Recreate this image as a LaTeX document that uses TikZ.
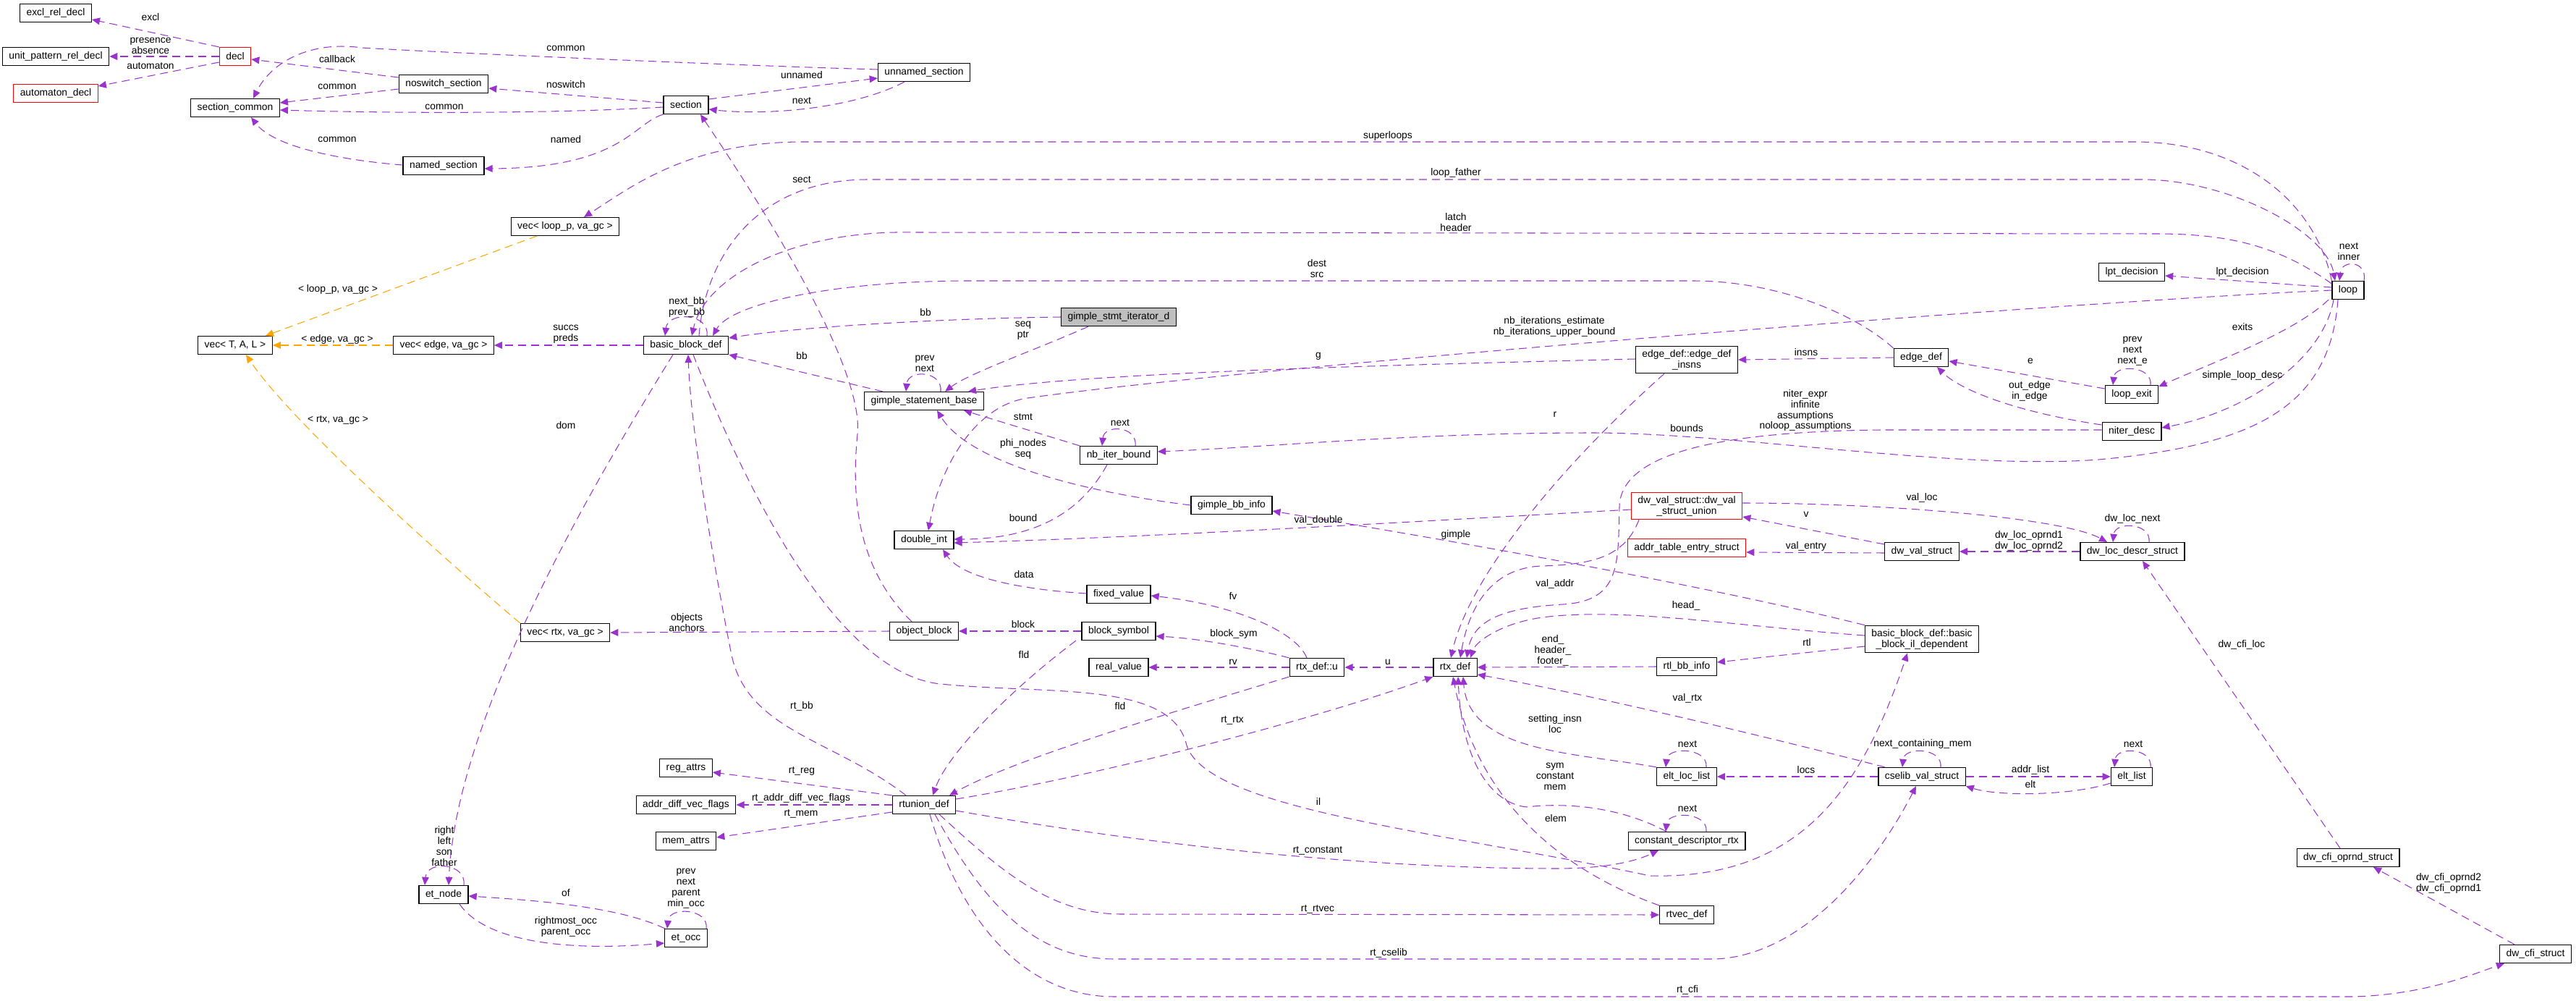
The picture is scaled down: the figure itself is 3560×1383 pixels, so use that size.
\documentclass[tikz,border=0pt]{standalone}
\usepackage{fontspec}
\setmainfont{Liberation Sans}
\usetikzlibrary{arrows.meta}
\definecolor{edgepurple}{HTML}{9A32CD}
\definecolor{tmplorange}{HTML}{FFA500}
\definecolor{rootgray}{HTML}{BFBFBF}
\begin{document}
\begin{tikzpicture}[x=0.0254cm, y=-0.0254cm,
    cls/.style={draw=black, line width=0.9pt, fill=white, align=center, font=\fontsize{10}{10.8}\selectfont, inner xsep=6.5pt, inner ysep=3.5pt, minimum height=18pt},
    redcls/.style={cls, draw=red},
    rootcls/.style={cls, fill=rootgray},
    lbl/.style={font=\fontsize{10}{10.8}\selectfont, align=center, inner sep=0pt},
    member/.style={draw=edgepurple, line width=0.75pt, dash pattern=on 8pt off 5pt, -{Triangle[length=8pt,width=7pt]}},
    inst/.style={member, draw=tmplorange}]
    \fill[white] (0,0) rectangle (3560,1383);
    \useasboundingbox (0,0) rectangle (3560,1383);

    \node[cls] (excl) at (77,18) {excl\_rel\_decl};
    \node[cls] (upat) at (77,78) {unit\_pattern\_rel\_decl};
    \node[redcls] (autod) at (77,129) {automaton\_decl};
    \node[redcls] (decl) at (325,78) {decl};
    \node[cls] (seccom) at (325,149) {section\_common};
    \node[cls] (noswitch) at (613,116) {noswitch\_section};
    \node[cls] (namedsec) at (613,229) {named\_section};
    \node[cls] (section) at (948,145) {section};
    \node[cls] (unnamed) at (1277,100) {unnamed\_section};
    \node[cls] (vecloop) at (781,313) {vec< loop\_p, va\_gc >};
    \node[cls] (vectal) at (325,477) {vec< T, A, L >};
    \node[cls] (vecedge) at (613,477) {vec< edge, va\_gc >};
    \node[cls] (bbdef) at (948,477) {basic\_block\_def};
    \node[rootcls] (gsiter) at (1546,438) {gimple\_stmt\_iterator\_d};
    \node[cls] (gsbase) at (1277,554) {gimple\_statement\_base};
    \node[cls] (nbiter) at (1546,629) {nb\_iter\_bound};
    \node[cls] (dblint) at (1277,746) {double\_int};
    \node[cls] (gbbinfo) at (1702,698) {gimple\_bb\_info};
    \node[cls] (fixval) at (1546,821) {fixed\_value};
    \node[cls] (objblock) at (1277,872) {object\_block};
    \node[cls] (blksym) at (1546,872) {block\_symbol};
    \node[cls] (vecrtx) at (781,874) {vec< rtx, va\_gc >};
    \node[cls] (realval) at (1546,922) {real\_value};
    \node[cls] (rtxu) at (1820,922) {rtx\_def::u};
    \node[cls] (rtxdef) at (2011,922) {rtx\_def};
    \node[cls] (rtunion) at (1277,1112) {rtunion\_def};
    \node[cls] (regattrs) at (948,1061) {reg\_attrs};
    \node[cls] (adiff) at (948,1112) {addr\_diff\_vec\_flags};
    \node[cls] (memattrs) at (948,1162) {mem\_attrs};
    \node[cls] (etnode) at (613,1236) {et\_node};
    \node[cls] (etocc) at (948,1296) {et\_occ};
    \node[cls] (rtlbb) at (2331,921) {rtl\_bb\_info};
    \node[cls] (bbil) at (2656,883) {basic\_block\_def::basic\\\_block\_il\_dependent};
    \node[redcls] (dwunion) at (2331,699) {dw\_val\_struct::dw\_val\\\_struct\_union};
    \node[redcls] (addrtab) at (2331,757) {addr\_table\_entry\_struct};
    \node[cls] (dwval) at (2656,762) {dw\_val\_struct};
    \node[cls] (dwloc) at (2947,762) {dw\_loc\_descr\_struct};
    \node[cls] (edgeins) at (2331,497) {edge\_def::edge\_def\\\_insns};
    \node[cls] (edgedef) at (2655,494) {edge\_def};
    \node[cls] (loopexit) at (2946,545) {loop\_exit};
    \node[cls] (niter) at (2946,596) {niter\_desc};
    \node[cls] (lptdec) at (2946,376) {lpt\_decision};
    \node[cls] (loop) at (3245,401) {loop};
    \node[cls] (eltloc) at (2331,1073) {elt\_loc\_list};
    \node[cls] (cselib) at (2656,1073) {cselib\_val\_struct};
    \node[cls] (eltlist) at (2946,1073) {elt\_list};
    \node[cls] (constdesc) at (2331,1162) {constant\_descriptor\_rtx};
    \node[cls] (rtvec) at (2331,1264) {rtvec\_def};
    \node[cls] (cfiopr) at (3245,1185) {dw\_cfi\_oprnd\_struct};
    \node[cls] (cfistr) at (3504,1318) {dw\_cfi\_struct};

    \draw[member] (decl.north west) -- (excl.east |- 0,27);
    \draw[member] (decl.west) -- (upat.east);
    \draw[member] (decl.west |- 0,86) -- (autod.east |- 0,119);
    \draw[member] (noswitch.west |- 0,107) -- (decl.east |- 0,82);
    \draw[member] (noswitch.west |- 0,123) -- (seccom.east |- 0,142);
    \draw[member] (section.west |- 0,148) .. controls (750,158) and (520,156) .. (seccom.east |- 0,152);
    \draw[member] (unnamed.west |- 0,96) .. controls (1000,90) and (600,72) .. (500,66) .. controls (430,56) and (375,85) .. (350,0 |- seccom.north);
    \draw[member] (namedsec.west |- 0,228) .. controls (480,222) and (380,205) .. (347,0 |- seccom.south);
    \draw[member] (section.west |- 0,142) -- (noswitch.east |- 0,122);
    \draw[member] (section.south west) .. controls (875,170) and (860,232) .. (namedsec.east |- 0,233);
    \draw[member] (section.east |- 0,137) -- (unnamed.west |- 0,108);
    \draw[member] (1250,0 |- unnamed.south) .. controls (1180,150) and (1060,160) .. (section.east |- 0,151);

    \draw[member] (loop.north west) .. controls (3200,280) and (3100,196) .. (2950,196) -- (1110,196) .. controls (950,196) and (870,260) .. (807,0 |- vecloop.north);
    \draw[inst] (742,0 |- vecloop.south) -- (367,0 |- vectal.north);
    \draw[inst] (vecedge.west) -- (vectal.east);
    \draw[member] (bbdef.west) -- (vecedge.east);
    \draw[inst] (vecrtx.north west) .. controls (600,760) and (400,580) .. (340,0 |- vectal.south);

    \draw[member] (977,0 |- bbdef.north) .. controls (981,432) and (923,430) .. (919,0 |- bbdef.north);
    \draw[member] (966,0 |- bbdef.north) .. controls (975,350) and (1050,248) .. (1200,248) -- (2960,248) .. controls (3080,248) and (3215,320) .. (3227,0 |- loop.north);
    \draw[member] (loop.west |- 0,392) .. controls (3150,340) and (3080,323) .. (2980,323) -- (1260,321) .. controls (1100,318) and (975,380) .. (956,0 |- bbdef.north);
    \draw[member] (edgedef.north west) .. controls (2560,430) and (2450,388) .. (2340,388) -- (1340,388) .. controls (1150,388) and (1010,420) .. (985,0 |- bbdef.north);
    \draw[member] (gsiter.west) .. controls (1300,440) and (1100,452) .. (bbdef.east |- 0,467);
    \draw[member] (1220,0 |- gsbase.north) -- (bbdef.south east);
    \draw[member] (930,0 |- bbdef.south) .. controls (800,700) and (630,1000) .. (620,0 |- etnode.north);
    \draw[member] (1252,0 |- rtunion.north) .. controls (1150,1020) and (1030,1010) .. (1010,900) .. controls (990,800) and (955,600) .. (951,0 |- bbdef.south);
    \draw[member] (958,0 |- bbdef.south) .. controls (1020,650) and (1150,930) .. (1300,945) .. controls (1450,960) and (1620,940) .. (1640,1030) .. controls (1670,1120) and (2000,1150) .. (2280,1210) .. controls (2480,1215) and (2570,1100) .. (2636,0 |- bbil.south);

    \draw[member] (1300,0 |- gsbase.north) .. controls (1303,512) and (1255,510) .. (1252,0 |- gsbase.north);
    \draw[member] (1504,0 |- gsiter.south) .. controls (1440,480) and (1340,515) .. (1306,0 |- gsbase.north);
    \draw[member] (edgeins.west |- 0,496) .. controls (1900,505) and (1500,515) .. (1338,0 |- gsbase.north);
    \draw[member] (nbiter.north west) -- (1332,0 |- gsbase.south);
    \draw[member] (gbbinfo.west) .. controls (1500,680) and (1340,640) .. (1295,0 |- gsbase.south);
    \draw[member] (1569,0 |- nbiter.north) .. controls (1572,588) and (1526,586) .. (1523,0 |- nbiter.north);
    \draw[member] (3231,0 |- loop.south) .. controls (3220,560) and (3120,615) .. (2900,635) .. controls (2700,650) and (2400,598) .. (2200,598) .. controls (1950,598) and (1750,618) .. (nbiter.east |- 0,624);

    \draw[member] (loop.west) .. controls (2800,420) and (1700,510) .. (1420,550) .. controls (1350,560) and (1300,640) .. (1283,0 |- dblint.north);
    \draw[member] (1530,0 |- nbiter.south) .. controls (1490,715) and (1420,745) .. (dblint.east |- 0,745);
    \draw[member] (dwunion.west |- 0,704) .. controls (2000,718) and (1600,742) .. (dblint.east |- 0,750);
    \draw[member] (fixval.west |- 0,820) .. controls (1420,815) and (1330,800) .. (1303,0 |- dblint.south);

    \draw[member] (1806,0 |- rtxu.north) .. controls (1790,870) and (1700,835) .. (fixval.east |- 0,823);
    \draw[member] (rtxu.north west) .. controls (1740,898) and (1660,882) .. (blksym.east |- 0,879);
    \draw[member] (blksym.west) -- (objblock.east);
    \draw[member] (1260,0 |- objblock.north) .. controls (1190,790) and (1175,700) .. (1185,600) .. controls (1195,500) and (1030,250) .. (968,0 |- section.south);
    \draw[member] (objblock.west) -- (vecrtx.east);
    \draw[member] (1487,0 |- blksym.south) .. controls (1400,950) and (1310,1040) .. (1289,0 |- rtunion.north);
    \draw[member] (rtxu.south west) .. controls (1600,990) and (1400,1050) .. (1312,0 |- rtunion.north);
    \draw[member] (rtxdef.west) -- (rtxu.east);
    \draw[member] (rtxu.west) -- (realval.east);

    \draw[member] (rtunion.north west) -- (regattrs.east |- 0,1067);
    \draw[member] (rtunion.west) -- (adiff.east);
    \draw[member] (rtunion.west |- 0,1122) -- (memattrs.east |- 0,1157);
    \draw[member] (rtunion.east |- 0,1104) .. controls (1500,1075) and (1800,1000) .. (rtxdef.south west);
    \draw[member] (rtunion.east |- 0,1120) .. controls (1600,1170) and (1900,1200) .. (2150,1200) .. controls (2220,1200) and (2260,1190) .. (2292,0 |- constdesc.south);
    \draw[member] (1298,0 |- rtunion.south) .. controls (1380,1200) and (1450,1263) .. (1550,1263) -- (rtvec.west);
    \draw[member] (1292,0 |- rtunion.south) .. controls (1360,1250) and (1430,1325) .. (1540,1325) -- (2370,1325) .. controls (2500,1320) and (2600,1180) .. (2648,0 |- cselib.south);
    \draw[member] (1285,0 |- rtunion.south) .. controls (1330,1280) and (1420,1377) .. (1540,1377) -- (3250,1377) .. controls (3350,1375) and (3420,1345) .. (3461,0 |- cfistr.south);

    \draw[member] (641,0 |- etnode.north) .. controls (645,1192) and (590,1188) .. (587,0 |- etnode.north);
    \draw[member] (919,0 |- etocc.north) .. controls (860,1255) and (760,1245) .. (etnode.east |- 0,1238);
    \draw[member] (635,0 |- etnode.south) .. controls (670,1300) and (780,1315) .. (etocc.west |- 0,1303);
    \draw[member] (976,0 |- etocc.north) .. controls (980,1255) and (925,1252) .. (922,0 |- etocc.north);

    \draw[member] (edgedef.west) -- (edgeins.east);
    \draw[member] (2300,0 |- edgeins.south) .. controls (2150,650) and (2030,800) .. (2005,0 |- rtxdef.north);
    \draw[member] (niter.west |- 0,594) -- (2600,594) .. controls (2400,596) and (2240,620) .. (2238,700) .. controls (2236,780) and (2240,830) .. (2160,835) .. controls (2070,840) and (2035,860) .. (2027,0 |- rtxdef.north);
    \draw[member] (rtlbb.west) -- (rtxdef.east);
    \draw[member] (bbil.west |- 0,893) -- (rtlbb.east |- 0,915);
    \draw[member] (bbil.west |- 0,878) .. controls (2400,865) and (2250,840) .. (2140,852) .. controls (2080,858) and (2040,885) .. (2032,0 |- rtxdef.north);
    \draw[member] (bbil.north west) .. controls (2300,795) and (1900,730) .. (gbbinfo.east |- 0,706);
    \draw[member] (2265,0 |- dwunion.south) .. controls (2245,770) and (2200,780) .. (2130,782) .. controls (2060,785) and (2030,840) .. (2018,0 |- rtxdef.north);
    \draw[member] (dwval.west |- 0,752) -- (dwunion.east |- 0,714);
    \draw[member] (dwval.west |- 0,764) -- (addrtab.east |- 0,763);
    \draw[member] (dwunion.east |- 0,695) .. controls (2600,695) and (2850,715) .. (2912,0 |- dwloc.north);
    \draw[member] (dwloc.west) -- (dwval.east);
    \draw[member] (2970,0 |- dwloc.north) .. controls (2973,722) and (2923,720) .. (2920,0 |- dwloc.north);
    \draw[member] (3234,0 |- cfiopr.north) -- (2961,0 |- dwloc.south);
    \draw[member] (3475,0 |- cfistr.north) -- (3280,0 |- cfiopr.south);

    \draw[member] (loop.west |- 0,397) -- (lptdec.east |- 0,381);
    \draw[member] (3267,0 |- loop.north) .. controls (3272,360) and (3236,358) .. (3233,0 |- loop.north);
    \draw[member] (3218,0 |- loop.south) .. controls (3170,460) and (3060,500) .. (loopexit.east |- 0,534);
    \draw[member] (3225,0 |- loop.south) .. controls (3210,500) and (3100,570) .. (niter.east |- 0,591);
    \draw[member] (loopexit.west |- 0,537) -- (edgedef.east |- 0,499);
    \draw[member] (niter.west |- 0,587) .. controls (2790,570) and (2710,540) .. (2677,0 |- edgedef.south);
    \draw[member] (2972,0 |- loopexit.north) .. controls (2975,505) and (2923,503) .. (2920,0 |- loopexit.north);

    \draw[member] (2358,0 |- eltloc.north) .. controls (2361,1033) and (2305,1031) .. (2302,0 |- eltloc.north);
    \draw[member] (cselib.west) -- (eltloc.east);
    \draw[member] (2682,0 |- cselib.north) .. controls (2685,1033) and (2632,1031) .. (2629,0 |- cselib.north);
    \draw[member] (2972,0 |- eltlist.north) .. controls (2975,1033) and (2925,1031) .. (2922,0 |- eltlist.north);
    \draw[member] (cselib.east) -- (eltlist.west);
    \draw[member] (eltlist.west |- 0,1082) .. controls (2860,1100) and (2760,1100) .. (cselib.south east);
    \draw[member] (eltloc.north west) .. controls (2180,1040) and (2030,1040) .. (2022,0 |- rtxdef.south);
    \draw[member] (2303,0 |- constdesc.north) .. controls (2230,1110) and (2150,1110) .. (2110,1115) .. controls (2060,1110) and (2020,1050) .. (2015,0 |- rtxdef.south);
    \draw[member] (rtvec.north west) .. controls (2150,1200) and (2040,1100) .. (2008,0 |- rtxdef.south);
    \draw[member] (2605,0 |- cselib.north) .. controls (2450,1020) and (2200,960) .. (rtxdef.east |- 0,932);
    \draw[member] (2358,0 |- constdesc.north) .. controls (2361,1122) and (2305,1120) .. (2302,0 |- constdesc.north);

    \node[lbl] (lexcl) at (208,24) {excl};
    \node[lbl] (lpresence) at (208,63) {presence\\absence};
    \node[lbl] (lautomaton) at (208,91) {automaton};
    \node[lbl] (lcommona) at (782,67) {common};
    \node[lbl] (lcallback) at (466,82) {callback};
    \node[lbl] (lcommonb) at (466,120) {common};
    \node[lbl] (lnoswitch) at (782,117) {noswitch};
    \node[lbl] (lcommonc) at (614,148) {common};
    \node[lbl] (lcommond) at (466,193) {common};
    \node[lbl] (lnamed) at (782,193) {named};
    \node[lbl] (lunnamed) at (1108,104) {unnamed};
    \node[lbl] (lnextsec) at (1108,139) {next};
    \node[lbl] (lsuperloops) at (1918,188) {superloops};
    \node[lbl] (lloopfather) at (2012,239) {loop\_father};
    \node[lbl] (llatch) at (2012,307) {latch\\header};
    \node[lbl] (ldest) at (1820,371) {dest\\src};
    \node[lbl] (lnextbb) at (949,424) {next\_bb\\prev\_bb};
    \node[lbl] (lbbiter) at (1279,432) {bb};
    \node[lbl] (lseqptr) at (1414,457) {seq\\ptr};
    \node[lbl] (lvecloop) at (467,400) {< loop\_p, va\_gc >};
    \node[lbl] (lvecedge) at (466,469) {< edge, va\_gc >};
    \node[lbl] (lsuccs) at (782,462) {succs\\preds};
    \node[lbl] (lvecrtx) at (467,580) {< rtx, va\_gc >};
    \node[lbl] (ldom) at (782,588) {dom};
    \node[lbl] (lnbiter) at (2148,451) {nb\_iterations\_estimate\\nb\_iterations\_upper\_bound};
    \node[lbl] (lg) at (1822,492) {g};
    \node[lbl] (linsns) at (2496,487) {insns};
    \node[lbl] (lbbbase) at (1108,492) {bb};
    \node[lbl] (lprevnext) at (1278,502) {prev\\next};
    \node[lbl] (lstmt) at (1414,576) {stmt};
    \node[lbl] (lnextnb) at (1548,584) {next};
    \node[lbl] (lphi) at (1414,620) {phi\_nodes\\seq};
    \node[lbl] (lbounds) at (2331,592) {bounds};
    \node[lbl] (lr) at (2149,573) {r};
    \node[lbl] (lniterexpr) at (2495,567) {niter\_expr\\infinite\\assumptions\\noloop\_assumptions};
    \node[lbl] (lbound) at (1414,716) {bound};
    \node[lbl] (lvaldouble) at (1822,719) {val\_double};
    \node[lbl] (lgimple) at (2012,739) {gimple};
    \node[lbl] (ldata) at (1415,794) {data};
    \node[lbl] (lfv) at (1704,823) {fv};
    \node[lbl] (lblock) at (1414,863) {block};
    \node[lbl] (lblocksym) at (1705,876) {block\_sym};
    \node[lbl] (lobjects) at (949,860) {objects\\anchors};
    \node[lbl] (lsect) at (1108,248) {sect};
    \node[lbl] (lfldsym) at (1415,905) {fld};
    \node[lbl] (lfldu) at (1548,976) {fld};
    \node[lbl] (lrv) at (1704,915) {rv};
    \node[lbl] (lu) at (1918,915) {u};
    \node[lbl] (lrtbb) at (1108,976) {rt\_bb};
    \node[lbl] (lrtrtx) at (1703,995) {rt\_rtx};
    \node[lbl] (lil) at (1822,1107) {il};
    \node[lbl] (lrtreg) at (1108,1065) {rt\_reg};
    \node[lbl] (lrtaddr) at (1107,1103) {rt\_addr\_diff\_vec\_flags};
    \node[lbl] (lrtmem) at (1107,1124) {rt\_mem};
    \node[lbl] (lrtconst) at (1821,1175) {rt\_constant};
    \node[lbl] (lrtrtvec) at (1821,1256) {rt\_rtvec};
    \node[lbl] (lrtcselib) at (1919,1317) {rt\_cselib};
    \node[lbl] (lrtcfi) at (2332,1368) {rt\_cfi};
    \node[lbl] (lright) at (614,1169) {right\\left\\son\\father};
    \node[lbl] (lof) at (782,1234) {of};
    \node[lbl] (lrightmost) at (782,1280) {rightmost\_occ\\parent\_occ};
    \node[lbl] (lprevocc) at (948,1228) {prev\\next\\parent\\min\_occ};
    \node[lbl] (lendhdr) at (2146,899) {end\_\\header\_\\footer\_};
    \node[lbl] (lrtl) at (2497,888) {rtl};
    \node[lbl] (lhead) at (2330,837) {head\_};
    \node[lbl] (lvaladdr) at (2149,807) {val\_addr};
    \node[lbl] (lv) at (2496,711) {v};
    \node[lbl] (lvalentry) at (2496,755) {val\_entry};
    \node[lbl] (lvalloc) at (2656,688) {val\_loc};
    \node[lbl] (loprnd) at (2804,747) {dw\_loc\_oprnd1\\dw\_loc\_oprnd2};
    \node[lbl] (llocnext) at (2947,717) {dw\_loc\_next};
    \node[lbl] (lcfiloc) at (3098,891) {dw\_cfi\_loc};
    \node[lbl] (lcfioprnd) at (3384,1220) {dw\_cfi\_oprnd2\\dw\_cfi\_oprnd1};
    \node[lbl] (llpt) at (3099,376) {lpt\_decision};
    \node[lbl] (lnextinner) at (3246,348) {next\\inner};
    \node[lbl] (lexits) at (3099,452) {exits};
    \node[lbl] (lsimple) at (3099,519) {simple\_loop\_desc};
    \node[lbl] (le) at (2806,499) {e};
    \node[lbl] (loutedge) at (2805,540) {out\_edge\\in\_edge};
    \node[lbl] (lprevexit) at (2947,485) {prev\\next\\next\_e};
    \node[lbl] (lnextloc) at (2332,1028) {next};
    \node[lbl] (llocs) at (2496,1064) {locs};
    \node[lbl] (lnextmem) at (2657,1028) {next\_containing\_mem};
    \node[lbl] (lnextelt) at (2948,1028) {next};
    \node[lbl] (laddrlist) at (2806,1064) {addr\_list};
    \node[lbl] (lelt) at (2806,1084) {elt};
    \node[lbl] (lvalrtx) at (2332,965) {val\_rtx};
    \node[lbl] (lsetting) at (2149,1000) {setting\_insn\\loc};
    \node[lbl] (lsym) at (2149,1073) {sym\\constant\\mem};
    \node[lbl] (lelem) at (2150,1131) {elem};
    \node[lbl] (lnextconst) at (2332,1117) {next};
\end{tikzpicture}
\end{document}
